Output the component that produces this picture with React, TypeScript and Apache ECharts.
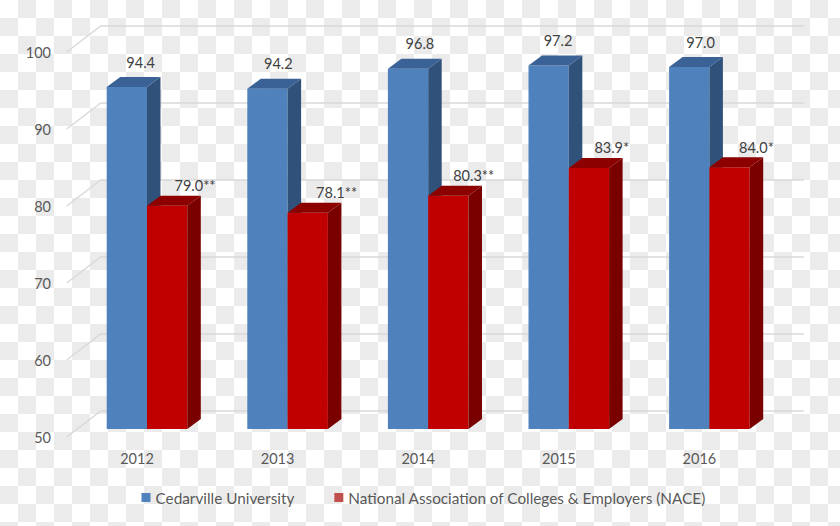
import React, { useEffect, useRef } from "react";
import * as echarts from "echarts";

const years = ["2012", "2013", "2014", "2015", "2016"];
const cedarville = [94.4, 94.2, 96.8, 97.2, 97.0];
const nace = [79.0, 78.1, 80.3, 83.9, 84.0];
const naceLabels = ["79.0**", "78.1**", "80.3**", "83.9*", "84.0*"];
const ticks = [50, 60, 70, 80, 90, 100];
const blueLabelDx = [34, 31, 32, 29.5, 31.5];
const redLabelDx = [48, 49, 45.5, 43, 47];

const FONT = "Lato";
const WALL_DX = 34;
const WALL_DY = 26;
const BAR_W = 40.3;
const BAR_LIFT = 8;
const DEPTH_X = 13.5;
const DEPTH_Y = 10;
const GROUP_SHIFT = 10;

function barRenderer(
  side: "left" | "right",
  front: string,
  sideColor: string,
  topColor: string,
  label: (i: number, v: number) => string,
  labelDx: number[],
  labelDy: number
) {
  return (_params: any, api: any) => {
    const i = api.value(0);
    const v = api.value(1);
    const top = api.coord([i, v]);
    const base = api.coord([i, 50]);
    const centre = top[0] + GROUP_SHIFT;
    const x0 = side === "left" ? centre - BAR_W : centre;
    const x1 = x0 + BAR_W;
    const yT = top[1] - BAR_LIFT;
    const yB = base[1] - BAR_LIFT;
    return {
      type: "group",
      children: [
        { type: "rect", shape: { x: x0, y: yT, width: BAR_W, height: yB - yT }, style: { fill: front } },
        {
          type: "polygon",
          shape: { points: [[x1, yT], [x1 + DEPTH_X, yT - DEPTH_Y], [x1 + DEPTH_X, yB - DEPTH_Y], [x1, yB]] },
          style: { fill: sideColor },
        },
        {
          type: "polygon",
          shape: { points: [[x0, yT], [x0 + DEPTH_X, yT - DEPTH_Y], [x1 + DEPTH_X, yT - DEPTH_Y], [x1, yT]] },
          style: { fill: topColor },
        },
        {
          type: "text",
          style: {
            text: label(i, v),
            x: x0 + labelDx[i],
            y: yT - DEPTH_Y + labelDy,
            fill: "#404040",
            font: `14.5px ${FONT}`,
            textAlign: "center",
            textVerticalAlign: "middle",
          },
        },
      ],
    };
  };
}

export default function App() {
  const ref = useRef<HTMLDivElement>(null);
  useEffect(() => {
    const chart = echarts.init(ref.current!, null, { renderer: "svg" });
    const pairs = (vals: number[]) => vals.map((v, i) => [i, v]);
    chart.setOption({
      animation: false,
      backgroundColor: "transparent",
      grid: { left: 66.7, right: 70.3, top: 52, bottom: 89 },
      xAxis: {
        type: "category",
        data: years,
        axisLine: { show: false },
        axisTick: { show: false },
        axisLabel: { color: "#595959", fontFamily: FONT, fontSize: 14.5, margin: 14 },
      },
      yAxis: {
        type: "value",
        min: 50,
        max: 100,
        interval: 10,
        axisLine: { show: false },
        axisTick: { show: false },
        splitLine: { show: false },
        axisLabel: { color: "#595959", fontFamily: FONT, fontSize: 14.5, margin: 15.7 },
      },
      legend: {
        data: ["Cedarville University", "National Association of Colleges & Employers (NACE)"],
        left: 141.5,
        top: 490,
        padding: 0,
        icon: "rect",
        itemWidth: 9,
        itemHeight: 9,
        itemGap: 40,
        textStyle: { color: "#595959", fontFamily: FONT, fontSize: 15.3 },
      },
      series: [
        {
          type: "custom",
          name: "walls",
          silent: true,
          z: 1,
          data: ticks.map((t) => [0, t]),
          encode: { x: 0, y: 1 },
          renderItem: (params: any, api: any) => {
            const y = api.coord([0, api.value(1)])[1];
            const left = params.coordSys.x;
            const right = left + params.coordSys.width;
            return {
              type: "polyline",
              shape: { points: [[left, y], [left + WALL_DX, y - WALL_DY], [right + WALL_DX, y - WALL_DY]] },
              style: { stroke: "#d9d9d9", lineWidth: 1.5, fill: "none" },
            };
          },
        },
        {
          type: "custom",
          name: "Cedarville University",
          z: 2,
          itemStyle: { color: "#4f81bd" },
          data: pairs(cedarville),
          encode: { x: 0, y: 1 },
          renderItem: barRenderer("left", "#4f81bd", "#30517a", "#3a6296", (_i, v) => v.toFixed(1), blueLabelDx, -15),
        },
        {
          type: "custom",
          name: "National Association of Colleges & Employers (NACE)",
          z: 3,
          itemStyle: { color: "#c0504d" },
          data: pairs(nace),
          encode: { x: 0, y: 1 },
          renderItem: barRenderer("right", "#c00000", "#7a0000", "#8c0000", (i) => naceLabels[i], redLabelDx, -10),
        },
      ],
    });
    return () => chart.dispose();
  }, []);
  return (
    <div
      style={{
        position: "absolute",
        left: 0,
        top: 0,
        width: 840,
        height: 526,
        background: "repeating-conic-gradient(#ebebeb 0 25%, #ffffff 0 50%) 0 0 / 36px 36px",
      }}
    >
      <div ref={ref} style={{ width: 840, height: 526 }} />
    </div>
  );
}
